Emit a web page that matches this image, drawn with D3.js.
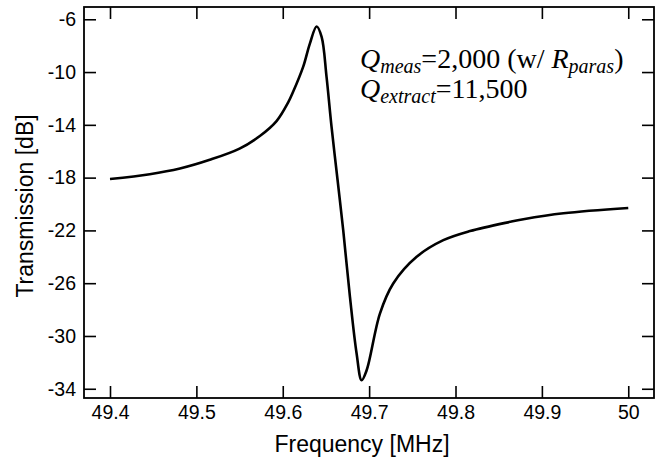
<!DOCTYPE html>
<html>
<head>
<meta charset="utf-8">
<script src="https://cdn.jsdelivr.net/npm/d3@7"></script>
<style>
  html, body { margin: 0; padding: 0; background: #fff; }
  svg { display: block; }
</style>
</head>
<body>
<svg id="chart" width="662" height="462"></svg>
<script>
// ---- Data ----
const freqMHz = [49.4, 49.446, 49.481, 49.5155, 49.55, 49.5735, 49.5928, 49.6063, 49.612, 49.6236,
  49.6314, 49.6392, 49.645, 49.6507, 49.6565, 49.6635, 49.670, 49.6778, 49.6855, 49.6913,
  49.6971, 49.7125, 49.7279, 49.755, 49.7859, 49.8168, 49.8632, 49.8786, 49.925, 50.0];
const transmissionDb = [-18.10, -17.74, -17.31, -16.65, -15.80, -14.85, -13.72, -12.30, -11.50, -9.61,
  -7.84, -6.55, -7.34, -10.37, -14.16, -18.2, -21.98, -27.04, -31.33, -33.35,
  -32.6, -28.30, -26.02, -24.0, -22.74, -22.05, -21.35, -21.15, -20.70, -20.30];
const xTicks = [49.4, 49.5, 49.6, 49.7, 49.8, 49.9, 50];
const yTicks = [-6, -10, -14, -18, -22, -26, -30, -34];
const xDomain = [49.3699, 50.0298];
const yDomain = [-34.7, -5.07];

// ---- Layout ----
const W = 662, H = 462;
const m = { left: 84, right: 8, top: 7, bottom: 64 };
const svg = d3.select("#chart");
const x = d3.scaleLinear().domain(xDomain).range([m.left, W - m.right]);
const y = d3.scaleLinear().domain(yDomain).range([H - m.bottom, m.top]);
const sans = "'Liberation Sans', Arial, Helvetica, sans-serif";
const serif = "'Liberation Serif', 'Times New Roman', Times, serif";
const fmt = d => String(d);

const tickLen = 12;
function styleAxis(g) {
  g.select(".domain").remove();
  g.selectAll(".tick line").attr("stroke", "#000").attr("stroke-width", 1.6);
  g.selectAll("text").attr("fill", "#000").style("font-family", sans).style("font-size", "19.5px");
}

// bottom
svg.append("g").attr("transform", `translate(0,${H - m.bottom})`)
  .call(d3.axisBottom(x).tickValues(xTicks).tickFormat(fmt).tickSize(-tickLen).tickPadding(7))
  .call(styleAxis);
// top
svg.append("g").attr("transform", `translate(0,${m.top})`)
  .call(d3.axisTop(x).tickValues(xTicks).tickFormat("").tickSize(-tickLen))
  .call(styleAxis);
// left
svg.append("g").attr("transform", `translate(${m.left},0)`)
  .call(d3.axisLeft(y).tickValues(yTicks).tickFormat(fmt).tickSize(-tickLen).tickPadding(8))
  .call(styleAxis);
// right
svg.append("g").attr("transform", `translate(${W - m.right},0)`)
  .call(d3.axisRight(y).tickValues(yTicks).tickFormat("").tickSize(-tickLen))
  .call(styleAxis);

// frame
svg.append("rect")
  .attr("x", m.left).attr("y", m.top)
  .attr("width", W - m.right - m.left).attr("height", H - m.bottom - m.top)
  .attr("fill", "none").attr("stroke", "#000").attr("stroke-width", 1.8);

// curve
const pts = freqMHz.map((f, i) => [f, transmissionDb[i]]);
svg.append("path")
  .datum(pts)
  .attr("fill", "none").attr("stroke", "#000").attr("stroke-width", 2.6)
  .attr("stroke-linejoin", "round")
  .attr("d", d3.line().x(d => x(d[0])).y(d => y(d[1])).curve(d3.curveCatmullRom.alpha(0.5)));

// axis titles
svg.append("text")
  .attr("x", 362).attr("y", 452)
  .attr("text-anchor", "middle")
  .style("font-family", sans).style("font-size", "23px")
  .text("Frequency [MHz]");
svg.append("text")
  .attr("transform", "translate(33,206) rotate(-90)")
  .attr("text-anchor", "middle")
  .style("font-family", sans).style("font-size", "23px")
  .text("Transmission [dB]");

// annotation
const fs = 28, sub = 20, subShift = 5;
const t1 = svg.append("text").attr("x", 360).attr("y", 68)
  .style("font-family", serif).style("font-size", fs + "px");
t1.append("tspan").style("font-style", "italic").text("Q");
t1.append("tspan").style("font-style", "italic").style("font-size", sub + "px").attr("dy", subShift).text("meas");
t1.append("tspan").attr("dy", -subShift).text("=2,000 (w/ ");
t1.append("tspan").style("font-style", "italic").text("R");
t1.append("tspan").style("font-style", "italic").style("font-size", sub + "px").attr("dy", subShift).text("paras");
t1.append("tspan").attr("dy", -subShift).text(")");

const t2 = svg.append("text").attr("x", 360).attr("y", 98)
  .style("font-family", serif).style("font-size", fs + "px");
t2.append("tspan").style("font-style", "italic").text("Q");
t2.append("tspan").style("font-style", "italic").style("font-size", sub + "px").attr("dy", subShift).text("extract");
t2.append("tspan").attr("dy", -subShift).text("=11,500");
</script>
</body>
</html>
